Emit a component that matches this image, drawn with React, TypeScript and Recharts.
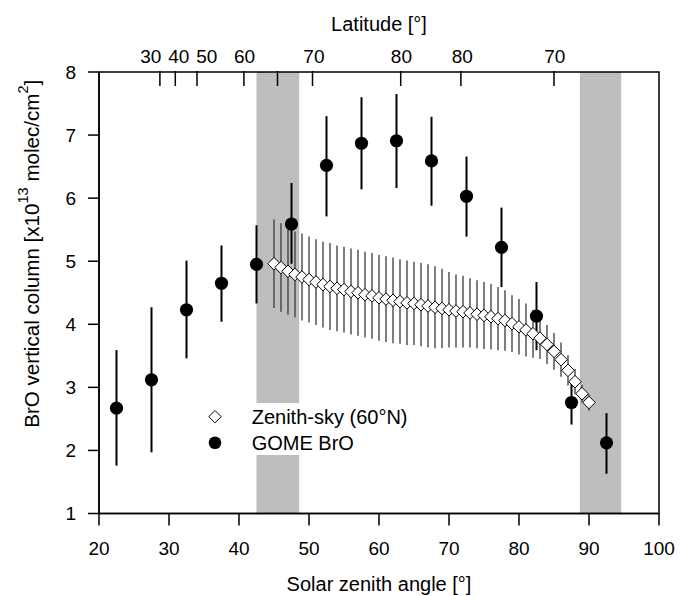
import React from 'react';
import { ComposedChart, Scatter, XAxis, YAxis, ErrorBar, ReferenceArea, Legend } from 'recharts';

const FONT = '"Liberation Sans", Arial, Helvetica, sans-serif';

// GOME BrO (binned by solar zenith angle)
const gomeSza = [22.5, 27.5, 32.5, 37.5, 42.5, 47.5, 52.5, 57.5, 62.5, 67.5, 72.5, 77.5, 82.5, 87.5, 92.5];
const gomeBro = [2.67, 3.12, 4.23, 4.65, 4.95, 5.59, 6.52, 6.87, 6.91, 6.59, 6.03, 5.22, 4.13, 2.76, 2.12];
const gomeUpper = [3.59, 4.27, 5.01, 5.25, 5.57, 6.24, 7.3, 7.6, 7.65, 7.29, 6.66, 5.85, 4.67, 3.12, 2.59];
const gomeLower = [1.76, 1.97, 3.46, 4.04, 4.33, 4.96, 5.71, 6.14, 6.16, 5.88, 5.39, 4.59, 3.59, 2.41, 1.63];

// Zenith-sky (60°N)
const zenithSza = [45, 46, 47, 48, 49, 50, 51, 52, 53, 54, 55, 56, 57, 58, 59, 60, 61, 62, 63, 64, 65, 66, 67, 68, 69, 70,
  71, 72, 73, 74, 75, 76, 77, 78, 79, 80, 81, 82, 83, 84, 85, 86, 87, 88, 89, 90];
const zenithBro = [4.96, 4.9, 4.84, 4.79, 4.75, 4.71, 4.67, 4.63, 4.6, 4.57, 4.55, 4.52, 4.5, 4.47, 4.45, 4.42, 4.4, 4.38,
  4.36, 4.34, 4.33, 4.31, 4.29, 4.27, 4.25, 4.23, 4.21, 4.2, 4.18, 4.16, 4.14, 4.12, 4.09, 4.06, 4.01, 3.96, 3.91, 3.85,
  3.78, 3.68, 3.57, 3.44, 3.27, 3.09, 2.9, 2.76];
const zenithErr = [0.7, 0.7, 0.69, 0.68, 0.69, 0.68, 0.68, 0.68, 0.69, 0.68, 0.68, 0.68, 0.68, 0.68, 0.68, 0.68, 0.68,
  0.68, 0.67, 0.67, 0.66, 0.66, 0.66, 0.65, 0.63, 0.6, 0.58, 0.57, 0.55, 0.54, 0.53, 0.52, 0.5, 0.48, 0.45, 0.44, 0.42,
  0.38, 0.33, 0.31, 0.29, 0.27, 0.24, 0.2, 0.14, 0.13];

const szaTicks = [20, 30, 40, 50, 60, 70, 80, 90, 100];
const broTicks = [1, 2, 3, 4, 5, 6, 7, 8];
const latTickPositions = [28.7, 30.9, 34.0, 40.7, 45.5, 50.5, 63.1, 71.7, 85.0];
const latLabelPositions = [27.4, 31.4, 35.4, 40.8, 50.7, 63.2, 71.9, 85.1];
const latLabels = ['30', '40', '50', '60', '70', '80', '80', '70'];
const bandStarts = [42.5, 88.7];
const bandEnds = [48.6, 94.6];
const legendOrder = ['Zenith-sky (60°N)', 'GOME BrO'];

const gomeData = gomeSza.map((x, i) => ({
  x,
  y: gomeBro[i],
  err: [gomeBro[i] - gomeLower[i], gomeUpper[i] - gomeBro[i]],
}));
const zenithData = zenithSza.map((x, i) => ({ x, y: zenithBro[i], err: zenithErr[i] }));

const Diamond = (props: any) => {
  const { cx, cy } = props;
  const h = 6.3;
  return (
    <polygon
      points={`${cx},${cy - h} ${cx + h},${cy} ${cx},${cy + h} ${cx - h},${cy}`}
      fill="#fff"
      stroke="#000"
      strokeWidth={1}
    />
  );
};

const Dot = (props: any) => {
  const { cx, cy } = props;
  return <circle cx={cx} cy={cy} r={6.6} fill="#000" />;
};

const LegendContent = (props: any) => {
  const payload = [...(props.payload || [])].sort(
    (a: any, b: any) => legendOrder.indexOf(a.value) - legendOrder.indexOf(b.value)
  );
  return (
    <div style={{ background: '#fff', width: 232, height: 52, position: 'relative', zIndex: 10 }}>
      <svg width={232} height={52} style={{ display: 'block' }}>
        {payload.map((p: any, i: number) => {
          const cy = 13.7 + i * 26;
          const isDiamond = p.type === 'diamond';
          return (
            <g key={i}>
              {isDiamond ? (
                <polygon
                  points={`15,${cy - 6.2} 21.2,${cy} 15,${cy + 6.2} 8.8,${cy}`}
                  fill="#fff"
                  stroke="#000"
                  strokeWidth={1}
                />
              ) : (
                <circle cx={15} cy={cy} r={6.3} fill="#000" />
              )}
              <text x={51.7} y={cy} dominantBaseline="central" fontSize={20} fontFamily={FONT} fill="#000">
                {p.value}
              </text>
            </g>
          );
        })}
      </svg>
    </div>
  );
};

const axisTick = { fill: '#000', fontSize: 19, fontFamily: FONT };
const EmptyTick = () => <g />;

export default function App() {
  return (
    <div style={{ position: 'absolute', left: 0, top: 0 }}>
      <ComposedChart
        width={680}
        height={596}
        margin={{ top: 70, right: 21, bottom: 0, left: 0 }}
        style={{ fontFamily: FONT, background: '#fff' }}
      >
        {bandStarts.map((s, i) => (
          <ReferenceArea
            key={`band${i}`}
            xAxisId="sza"
            x1={s}
            x2={bandEnds[i]}
            y1={1}
            y2={8}
            fill="#bebebe"
            fillOpacity={1}
            stroke="none"
            ifOverflow="visible"
          />
        ))}
        <XAxis
          xAxisId="sza"
          dataKey="x"
          type="number"
          domain={[20, 100]}
          ticks={szaTicks}
          interval={0}
          height={82.5}
          tickSize={12}
          tickMargin={16}
          tick={axisTick}
          stroke="#000"
          strokeWidth={1.5}
          allowDataOverflow
          label={(p: any) => {
            const vb = p.viewBox || {};
            return (
              <text x={vb.x + vb.width / 2} y={591} textAnchor="middle" fontSize={20} fontFamily={FONT} fill="#000">
                Solar zenith angle [°]
              </text>
            );
          }}
        />
        <XAxis
          xAxisId="latTicks"
          dataKey="x"
          type="number"
          orientation="top"
          domain={[20, 100]}
          ticks={latTickPositions}
          interval={0}
          height={1}
          tickSize={-15}
          tick={<EmptyTick />}
          tickLine={{ stroke: '#000', strokeWidth: 1.5 }}
          axisLine={false}
          stroke="#000"
          allowDataOverflow
        />
        <XAxis
          xAxisId="latLabels"
          dataKey="x"
          type="number"
          orientation="top"
          domain={[20, 100]}
          ticks={latLabelPositions}
          interval={0}
          height={1}
          tickLine={false}
          axisLine={false}
          tickSize={0}
          tickMargin={9}
          tick={axisTick}
          tickFormatter={(v: number, i: number) => latLabels[i]}
          allowDataOverflow
          label={(p: any) => {
            const vb = p.viewBox || {};
            return (
              <text x={vb.x + vb.width / 2} y={31} textAnchor="middle" fontSize={20} fontFamily={FONT} fill="#000">
                Latitude [°]
              </text>
            );
          }}
        />
        <YAxis
          dataKey="y"
          type="number"
          domain={[1, 8]}
          ticks={broTicks}
          interval={0}
          width={99}
          tickSize={11}
          tickMargin={12}
          tick={axisTick}
          stroke="#000"
          strokeWidth={1.5}
          allowDataOverflow
          label={(p: any) => {
            const vb = p.viewBox || {};
            const cx = 31;
            const cy = vb.y + vb.height / 2 - 39;
            return (
              <text
                x={cx}
                y={cy}
                transform={`rotate(-90, ${cx}, ${cy})`}
                textAnchor="middle"
                dominantBaseline="central"
                fontSize={20.6}
                fontFamily={FONT}
                fill="#000"
              >
                BrO vertical column [x10
                <tspan fontSize={14.5} dy={-8}>13</tspan>
                <tspan dy={8}> molec/cm</tspan>
                <tspan fontSize={14.5} dy={-8}>2</tspan>
                <tspan dy={8}>]</tspan>
              </text>
            );
          }}
        />
        <ReferenceArea
          xAxisId="sza"
          x1={20}
          x2={100}
          y1={1}
          y2={8}
          fill="none"
          stroke="#000"
          strokeWidth={1.5}
          ifOverflow="visible"
        />
        <Scatter
          name="Zenith-sky (60°N)"
          xAxisId="sza"
          data={zenithData}
          dataKey="y"
          legendType="diamond"
          shape={(p: any) => <Diamond {...p} />}
          isAnimationActive={false}
        >
          <ErrorBar dataKey="err" direction="y" width={0} stroke="#3a3a3a" strokeWidth={1.3} isAnimationActive={false} />
        </Scatter>
        <Scatter
          name="GOME BrO"
          xAxisId="sza"
          data={gomeData}
          dataKey="y"
          legendType="circle"
          shape={(p: any) => <Dot {...p} />}
          isAnimationActive={false}
        >
          <ErrorBar dataKey="err" direction="y" width={0} stroke="#000" strokeWidth={2} isAnimationActive={false} />
        </Scatter>
        <Legend
          layout="horizontal"
          verticalAlign="middle"
          align="center"
          content={<LegendContent />}
          wrapperStyle={{ left: 200, top: 403, width: 232, height: 52, zIndex: 10 }}
        />
      </ComposedChart>
    </div>
  );
}
